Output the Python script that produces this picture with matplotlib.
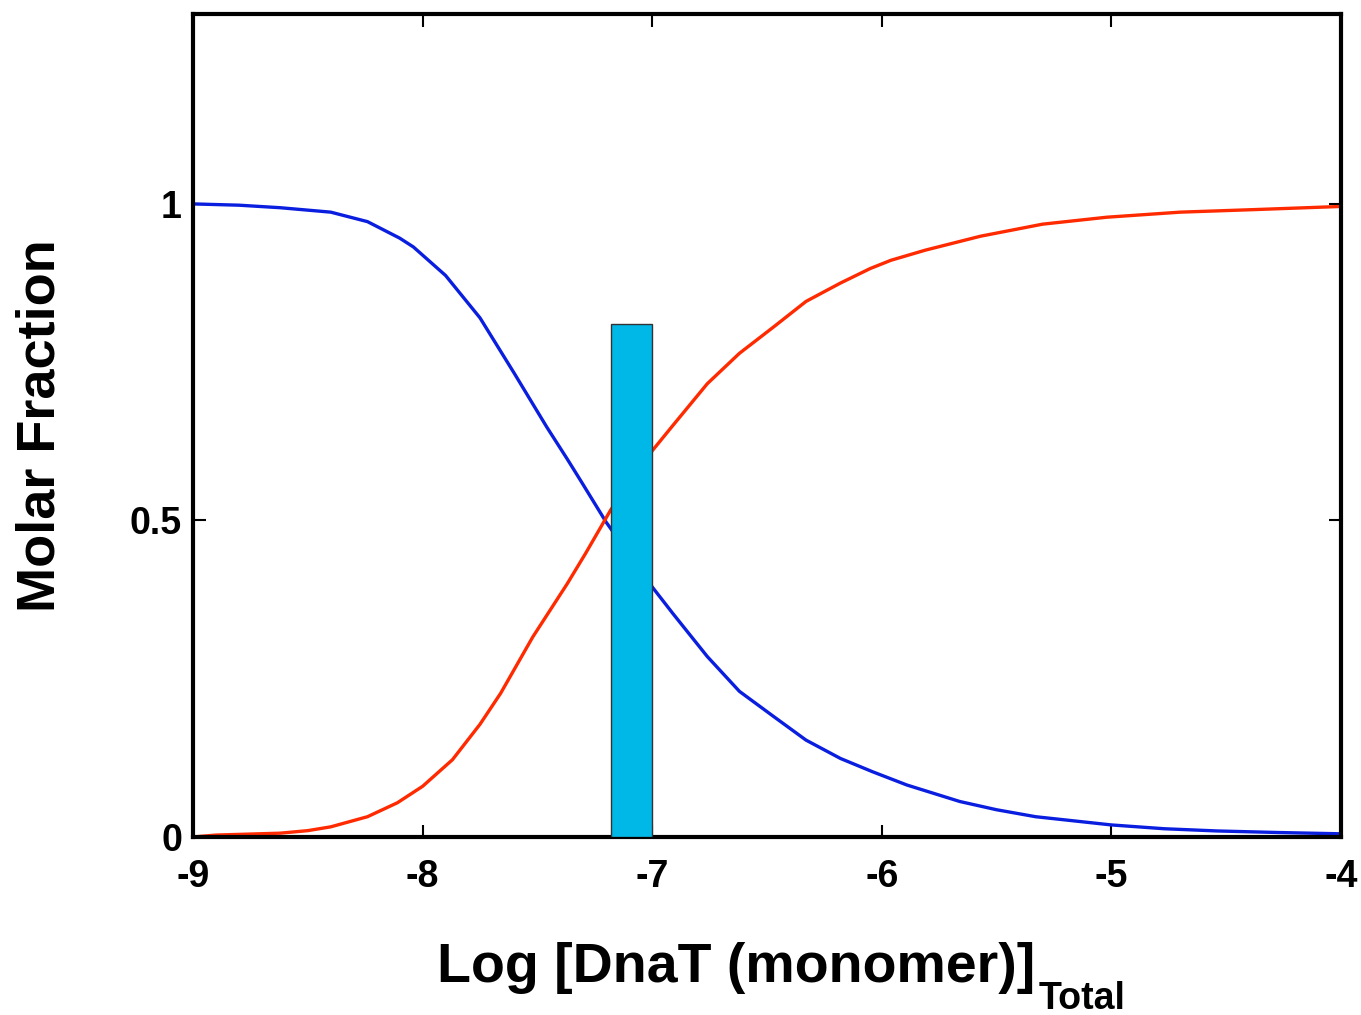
from matplotlib import pyplot as plt

# monomer fraction (blue) vs log total DnaT
mono_x = [-9.0, -8.80, -8.62, -8.40, -8.24, -8.10, -8.04, -7.90, -7.75, -7.60,
          -7.46, -7.37, -7.31, -7.20, -7.00, -6.91, -6.76, -6.62, -6.47, -6.33,
          -6.18, -6.04, -5.89, -5.66, -5.50, -5.33, -5.00, -4.77, -4.54, -4.27,
          -4.00]
mono_y = [1.0, 0.998, 0.994, 0.987, 0.972, 0.946, 0.932, 0.887, 0.820, 0.732,
          0.648, 0.597, 0.562, 0.497, 0.395, 0.353, 0.285, 0.230, 0.190, 0.153,
          0.124, 0.103, 0.082, 0.056, 0.043, 0.032, 0.019, 0.013, 0.0095, 0.007,
          0.005]

# dimer fraction (red)
dimer_x = [-9.0, -8.90, -8.62, -8.50, -8.40, -8.24, -8.11, -8.00, -7.87, -7.75,
           -7.66, -7.52, -7.37, -7.29, -7.18, -7.00, -6.91, -6.76, -6.62, -6.47,
           -6.33, -6.18, -6.05, -5.96, -5.81, -5.57, -5.30, -5.02, -4.70, -4.38,
           -4.00]
dimer_y = [0.0, 0.003, 0.006, 0.010, 0.016, 0.032, 0.054, 0.080, 0.122, 0.178,
           0.227, 0.316, 0.400, 0.448, 0.517, 0.610, 0.650, 0.716, 0.764, 0.806,
           0.846, 0.875, 0.898, 0.911, 0.927, 0.949, 0.968, 0.979, 0.987, 0.991,
           0.996]

# concentration window shown as a bar
window_left = -7.18
window_width = 0.18
window_height = 0.81

x_ticks = [-9, -8, -7, -6, -5, -4]
y_ticks = [0, 0.5, 1]
y_tick_labels = ['0', '0.5', '1']

plt.rcParams['axes.unicode_minus'] = False

fig = plt.figure(figsize=(13.61, 10.15), dpi=100, facecolor='w')
ax = fig.add_axes([0.1418, 0.1754, 0.8435, 0.8108])

ax.plot(mono_x, mono_y, color='#0a1ee0', lw=2.4, zorder=2)
ax.plot(dimer_x, dimer_y, color='#ff2a00', lw=2.4, zorder=2)
ax.bar(window_left, window_height, width=window_width, align='edge',
       color='#00b8e8', edgecolor='#333333', linewidth=1.0, zorder=3)

ax.set_xlim(-9, -4)
ax.set_ylim(0, 1.3)
ax.set_xticks(x_ticks)
ax.set_xticklabels([str(t) for t in x_ticks], family='Liberation Sans',
                   fontweight='bold', fontsize=27)
ax.set_yticks(y_ticks)
ax.set_yticklabels(y_tick_labels, family='Liberation Sans',
                   fontweight='bold', fontsize=27)

ax.tick_params(axis='both', direction='in', length=9, width=1.5,
               top=True, right=True)
ax.tick_params(axis='x', pad=16)
ax.tick_params(axis='y', pad=8)
for spine in ax.spines.values():
    spine.set_linewidth(3)

ax.set_ylabel('Molar Fraction', family='Liberation Sans', fontweight='bold',
              fontsize=39, labelpad=46)

# x label with a lowered "Total" subscript
fig.text(1035 / 1361, 1 - 982 / 1015, 'Log [DnaT (monomer)]', ha='right',
         va='baseline', family='Liberation Sans', fontweight='bold', fontsize=40)
fig.text(1039 / 1361, 1 - 1009 / 1015, 'Total', ha='left', va='baseline',
         family='Liberation Sans', fontweight='bold', fontsize=27)

plt.savefig('out.png', dpi=100, facecolor='w')
